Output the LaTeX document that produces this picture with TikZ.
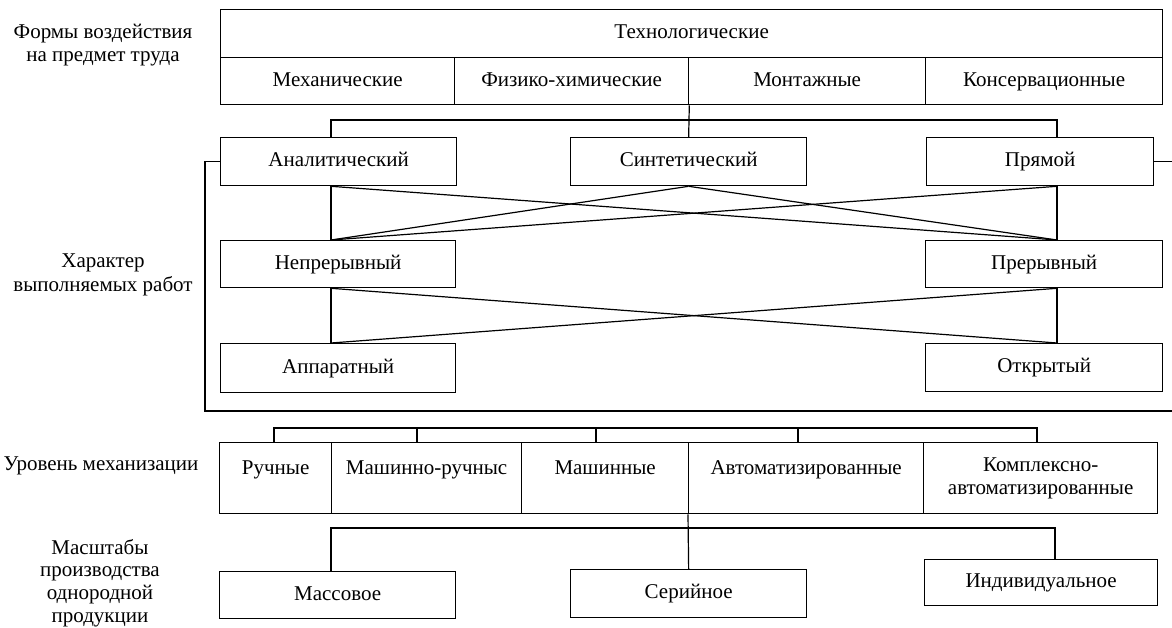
\documentclass[tikz,border=0pt]{standalone}
\usepackage{fontspec}
\setmainfont{Liberation Serif}
\begin{document}
\begin{tikzpicture}[x=1pt,y=-1pt,
  every node/.style={font=\fontsize{21}{23.5}\selectfont},
  box/.style={draw, line width=1.3pt, inner sep=0pt, anchor=north west,
    text height=15pt, text depth=5pt},
  topline/.style={text height=15pt, text depth=22pt},
  twoline/.style={draw, line width=1.3pt, inner sep=0pt, anchor=north west, align=center},
  link/.style={line width=1.2pt},
  lbl/.style={align=center, inner sep=0pt}]
\useasboundingbox[fill=white] (0,0) rectangle (1172,628);

% forms of action on the object of labour
\node[box, minimum width=942pt, minimum height=48pt] (tech) at (220,9) {Технологические};
\node[box, minimum width=234pt, minimum height=47pt] (meh)  at (220,57) {Механические};
\node[box, minimum width=234pt, minimum height=47pt] (fiz)  at (454,57) {Физико-химические};
\node[box, minimum width=237pt, minimum height=47pt] (mont) at (688,57) {Монтажные};
\node[box, minimum width=237pt, minimum height=47pt] (kons) at (925,57) {Консервационные};

% character of the work
\node[box, minimum width=236pt, minimum height=48pt] (anal)  at (220,137) {Аналитический};
\node[box, minimum width=236pt, minimum height=48pt] (sint)  at (570,137) {Синтетический};
\node[box, minimum width=227pt, minimum height=48pt] (pryam) at (926,137) {Прямой};
\node[box, minimum width=235pt, minimum height=47pt] (nepr)  at (220,240) {Непрерывный};
\node[box, minimum width=237pt, minimum height=47pt] (prer)  at (925,240) {Прерывный};
\node[box, minimum width=235pt, minimum height=49pt] (app)   at (220,343) {Аппаратный};
\node[box, minimum width=237pt, minimum height=48pt] (otkr)  at (925,343) {Открытый};

% level of mechanisation
\node[box, topline, minimum width=112pt, minimum height=71pt] (ruch)  at (219,442) {Ручные};
\node[box, topline, minimum width=190pt, minimum height=71pt] (mashr) at (331,442) {Машинно-ручныс};
\node[box, topline, minimum width=167pt, minimum height=71pt] (mash)  at (521,442) {Машинные};
\node[box, topline, minimum width=235pt, minimum height=71pt] (avt)   at (688,442) {Автоматизированные};
\node[twoline, minimum width=234pt, minimum height=71pt] (kompl) at (923,442) {Комплексно-\\автоматизированные};

% scale of production
\node[box, minimum width=236pt, minimum height=47pt] (mass) at (219,571) {Массовое};
\node[box, minimum width=236pt, minimum height=48pt] (ser)  at (570,569) {Серийное};
\node[box, minimum width=233pt, minimum height=46pt] (ind)  at (924,559) {Индивидуальное};

% row labels
\node[lbl] (l1) at (103,45)  {Формы воздействия\\на предмет труда};
\node[lbl] (l2) at (103,275) {Характер\\выполняемых работ};
\node[lbl] (l3) at (101,466) {Уровень механизации};
\node[lbl, font=\fontsize{21}{22.8}\selectfont] (l4) at (100,583) {Масштабы\\производства\\однородной\\продукции};

% connectors between the technological forms and the work types
\coordinate (jA) at (331,120);
\coordinate (jP) at (1057,120);
\draw[link] (fiz.south east) -- (sint.north);
\draw[link] (jA |- anal.north) -- (jA) -- (jP) -- (jP |- pryam.north);

\draw[link] (jA |- anal.south) -- (jA |- nepr.north);
\draw[link] (jP |- pryam.south) -- (jP |- prer.north);
\draw[link] (jA |- anal.south) -- (jP |- prer.north);
\draw[link] (jP |- pryam.south) -- (jA |- nepr.north);
\draw[link] (sint.south) -- (jA |- nepr.north);
\draw[link] (sint.south) -- (jP |- prer.north);

\draw[link] (jA |- nepr.south) -- (jA |- app.north);
\draw[link] (jP |- prer.south) -- (jP |- otkr.north);
\draw[link] (jA |- nepr.south) -- (jP |- otkr.north);
\draw[link] (jP |- prer.south) -- (jA |- app.north);

% enclosing bracket of the work group
\coordinate (edgeL) at (205,411);
\coordinate (edgeR) at (1172,411);
\draw[link] (anal.west) -- (anal.west -| edgeL) -- (edgeL) -- (edgeR);
\draw[link] (pryam.east) -- (pryam.east -| edgeR);

% bracket over the mechanisation levels
\coordinate (m1) at (274,428);
\coordinate (m2) at (417,428);
\coordinate (m3) at (596,428);
\coordinate (m4) at (798,428);
\coordinate (m5) at (1037,428);
\draw[link] (m1 |- ruch.north) -- (m1) -- (m5) -- (m5 |- kompl.north);
\draw[link] (m2) -- (m2 |- mashr.north);
\draw[link] (m3) -- (m3 |- mash.north);
\draw[link] (m4) -- (m4 |- avt.north);

% bracket over the production scales
\coordinate (b1) at (331,528);
\coordinate (b3) at (1055,528);
\draw[link] (b1 |- mass.north) -- (b1) -- (b3) -- (b3 |- ind.north);
\draw[link] (avt.south west) -- (ser.north);
\end{tikzpicture}
\end{document}
